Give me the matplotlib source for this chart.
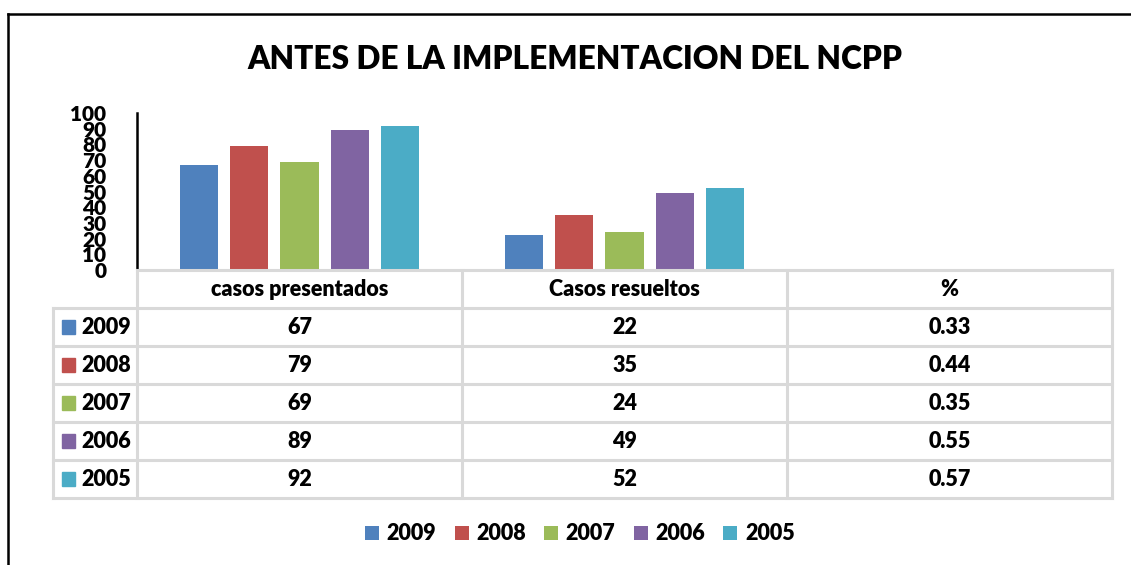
import numpy as np
import matplotlib
matplotlib.use("Agg")
import matplotlib.pyplot as plt
from matplotlib.lines import Line2D
from matplotlib.patches import Rectangle

# data
categories = ["casos presentados", "Casos resueltos", "%"]
years = ["2009", "2008", "2007", "2006", "2005"]
presentados = [67, 79, 69, 89, 92]
resueltos = [22, 35, 24, 49, 52]
porcentaje = [0.33, 0.44, 0.35, 0.55, 0.57]
pct_labels = ["0.33", "0.44", "0.35", "0.55", "0.57"]
colors = ["#4F81BD", "#C0504D", "#9BBB59", "#8064A2", "#4BACC6"]

plt.rcParams["font.family"] = ["Lato", "DejaVu Sans"]
plt.rcParams["font.weight"] = "heavy"
WT = "heavy"
FS = 15.5

W, H = 1131, 565
fig = plt.figure(figsize=(W / 100, H / 100), dpi=100)

# outer frame (left + top only)
fig.add_artist(Line2D([7.5 / W, 7.5 / W], [0, 1 - 14 / H], color="black", lw=1.8))
fig.add_artist(Line2D([7.5 / W, 1], [1 - 14 / H, 1 - 14 / H], color="black", lw=1.8))

fig.text(575 / W, 1 - 60 / H, "ANTES DE LA IMPLEMENTACION DEL NCPP",
         ha="center", va="center", fontsize=22.8, fontweight=WT)

# bar area
ax = fig.add_axes([137 / W, 1 - 270 / H, (1112 - 137) / W, (270 - 113) / H])
x = np.arange(len(categories))
step = 0.154
bw = 0.117
bars = []
for i, yr in enumerate(years):
    vals = [presentados[i], resueltos[i], porcentaje[i]]
    b = ax.bar(x + (i - 2) * step, vals, bw, color=colors[i], label=yr, linewidth=0)
    bars.append(b)
ax.set_xlim(-0.5, 2.5)
ax.set_ylim(0, 100)
ax.set_yticks(range(0, 101, 10))
ax.tick_params(axis="y", length=0, labelsize=15, pad=22)
for t in ax.get_yticklabels():
    t.set_fontweight(WT)
ax.set_xticks([])
for s in ["top", "right", "bottom"]:
    ax.spines[s].set_visible(False)
ax.spines["left"].set_linewidth(1.8)
ax.patch.set_alpha(0)

# data table below
tax = fig.add_axes([53 / W, 1 - 498 / H, (1112 - 53) / W, (498 - 270) / H])
lab_w = 84 / 325
tax.set_xlim(-lab_w, 3)
tax.set_ylim(6, 0)
tax.axis("off")
grid = dict(color="#D9D9D9", lw=2.2, solid_capstyle="projecting", clip_on=False)
tax.plot([0, 3], [0, 0], **grid)
for r in range(1, 7):
    tax.plot([-lab_w, 3], [r, r], **grid)
for c in range(4):
    tax.plot([c, c], [0, 6], **grid)
tax.plot([-lab_w, -lab_w], [1, 6], **grid)

for c, name in enumerate(categories):
    tax.text(c + 0.5, 0.5, name, ha="center", va="center", fontsize=FS, fontweight=WT)

for i, yr in enumerate(years):
    r = i + 1.5
    tax.add_patch(Rectangle((-lab_w + 9 / 325, r - 0.18), 13 / 325, 0.36, color=colors[i]))
    tax.text(-lab_w + 28 / 325, r, yr, ha="left", va="center", fontsize=FS, fontweight=WT)
    tax.text(0.5, r, str(presentados[i]), ha="center", va="center", fontsize=FS, fontweight=WT)
    tax.text(1.5, r, str(resueltos[i]), ha="center", va="center", fontsize=FS, fontweight=WT)
    tax.text(2.5, r, pct_labels[i], ha="center", va="center", fontsize=FS, fontweight=WT)

fig.legend(handles=[b[0] for b in bars], labels=years, loc="center", ncol=5,
           bbox_to_anchor=(580 / W, 1 - 534 / H), frameon=False,
           prop={"size": FS, "weight": WT},
           handlelength=0.65, handleheight=0.65, handletextpad=0.35, columnspacing=0.85)

fig.savefig("out.png", dpi=100)
